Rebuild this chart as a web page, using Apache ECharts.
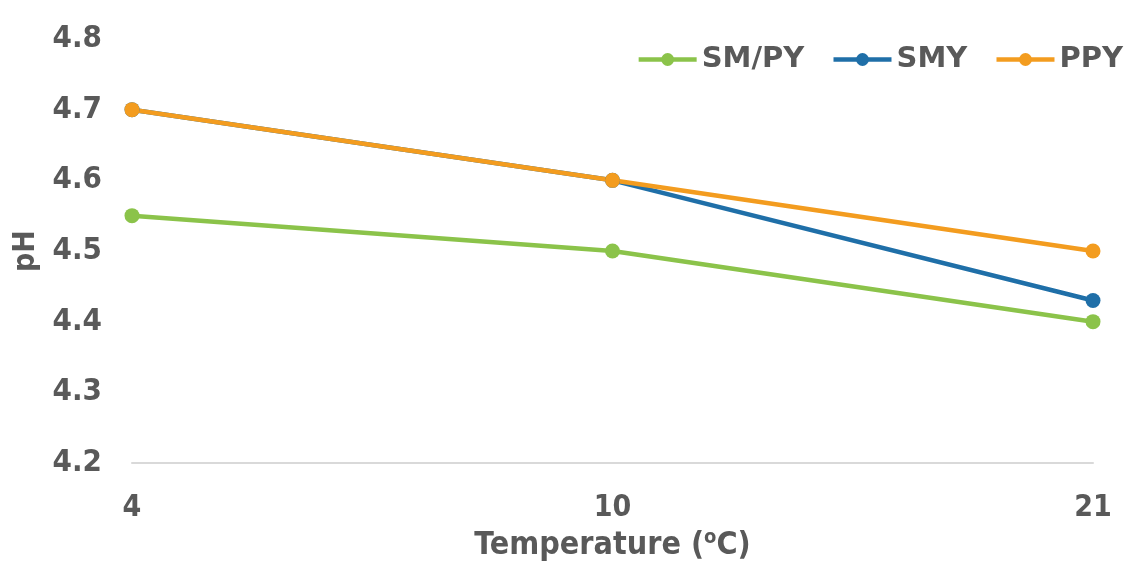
<!DOCTYPE html>
<html><head><meta charset="utf-8">
<script src="https://cdn.jsdelivr.net/npm/echarts@6/dist/echarts.min.js"></script>
<style>html,body{margin:0;padding:0;background:#fff}#c{width:1130px;height:562px}</style>
</head><body><div id="c"></div>
<script>
const categories = ['4', '10', '21'];
const smpy = [4.55, 4.5, 4.4];
const smy = [4.7, 4.6, 4.43];
const ppy = [4.7, 4.6, 4.5];
const yTicks = [4.2, 4.3, 4.4, 4.5, 4.6, 4.7, 4.8];

const FONT = '"DejaVu Sans Condensed", "DejaVu Sans", sans-serif';
const FONT_W = '"DejaVu Sans", sans-serif';
const TXT = '#595959';
const chart = echarts.init(document.getElementById('c'));
function mk(name, data, color) {
  return {
    name, type: 'line', data,
    symbol: 'circle', symbolSize: 15,
    lineStyle: { width: 4.5, color },
    itemStyle: { color },
    z: 2
  };
}
chart.setOption({
  animation: false,
  backgroundColor: '#fff',
  grid: { left: 132, right: 37, top: 39, bottom: 99, containLabel: false, outerBoundsMode: 'none' },
  legend: {
    top: 40, right: 2,
    itemWidth: 58, itemHeight: 16, itemGap: 27,
    lineStyle: { width: 4.5 },
    textStyle: { fontFamily: FONT_W, fontWeight: 'bold', fontSize: 29, color: TXT },
    data: ['SM/PY', 'SMY', 'PPY']
  },
  xAxis: {
    type: 'category', data: categories, boundaryGap: false,
    axisLine: { lineStyle: { color: '#d9d9d9', width: 2 } },
    axisTick: { show: false },
    axisLabel: { fontFamily: FONT, fontWeight: 'bold', fontSize: 30, color: TXT, margin: 30 },
    name: '{a|Temperature (}{s|o}{a|C)}',
    nameLocation: 'middle', nameGap: 60,
    nameTextStyle: {
      rich: {
        a: { fontFamily: FONT, fontWeight: 'bold', fontSize: 32, lineHeight: 36, color: TXT },
        s: { fontFamily: FONT, fontWeight: 'bold', fontSize: 20, lineHeight: 20, color: TXT, verticalAlign: 'top' }
      }
    }
  },
  yAxis: {
    type: 'value', min: 4.2, max: 4.8, interval: 0.1,
    axisLine: { show: false }, axisTick: { show: false },
    splitLine: { show: false },
    axisLabel: {
      fontFamily: FONT, fontWeight: 'bold', fontSize: 31, color: TXT, margin: 30,
      formatter: v => { const t = yTicks.find(x => Math.abs(x - v) < 1e-6); return t !== undefined ? t.toFixed(1) : ''; }
    },
    name: 'pH', nameLocation: 'middle', nameGap: 90, nameRotate: 90,
    nameTextStyle: { fontFamily: FONT, fontWeight: 'bold', fontSize: 30, color: TXT }
  },
  series: [
    mk('SM/PY', smpy, '#8bc34a'),
    mk('SMY', smy, '#1f6fa8'),
    mk('PPY', ppy, '#f39c1f')
  ]
});
</script></body></html>
